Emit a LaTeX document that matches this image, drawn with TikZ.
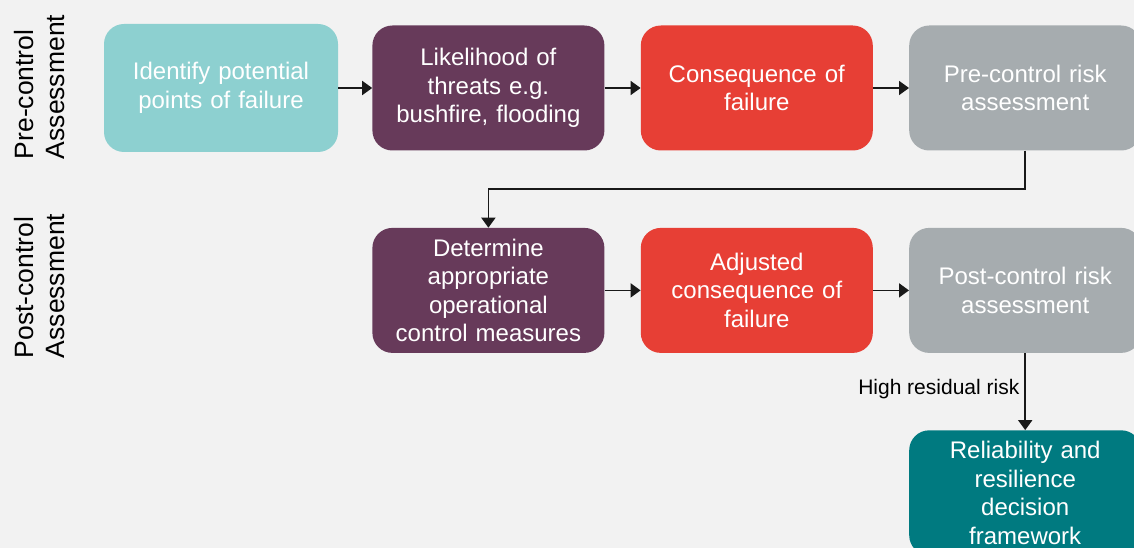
\documentclass[tikz,border=0pt]{standalone}
\usepackage{fontspec}
\setmainfont{Liberation Sans}
\usetikzlibrary{positioning,arrows.meta,calc}

\definecolor{cback}{HTML}{F2F2F2}
\definecolor{cidentify}{HTML}{8DD0D0}
\definecolor{cthreat}{HTML}{673A5A}
\definecolor{cconseq}{HTML}{E73F35}
\definecolor{crisk}{HTML}{A6ACAF}
\definecolor{cframe}{HTML}{007A80}

\tikzset{
  stage/.style={rectangle, rounded corners=20pt, minimum width=232pt,
    minimum height=125pt, text width=215pt, align=center, inner sep=0pt,
    text=white, font=\fontsize{24}{28.5}\selectfont},
  phase/.style={rotate=90, align=left, font=\fontsize{26.5}{31}\selectfont},
  flow/.style={-{Triangle[length=10pt,width=14pt]}, line width=1.8pt, draw=black!90}
}

\begin{document}
\begin{tikzpicture}[x=1pt, y=1pt, node distance=77pt and 36pt]
    \fill[cback] (0,0) rectangle (1134,-548);
    \useasboundingbox (0,0) rectangle (1134,-548);
    % Nodes
    \node[stage, fill=cidentify, minimum width=234pt, minimum height=128pt] (identify) at (221,-88) {Identify potential\\points of failure} ; %
    \node[stage, fill=cthreat, right=34pt of identify] (likelihood) {Likelihood of\\threats e.g.\\bushfire, flooding} ; %
    \node[stage, fill=cconseq, right=of likelihood] (consequence) {Consequence of\\failure} ; %
    \node[stage, fill=crisk, right=of consequence] (precontrol) {Pre-control risk\\assessment} ; %
    \node[stage, fill=cthreat, below=of likelihood] (measures) {Determine\\appropriate\\operational\\control measures} ; %
    \node[stage, fill=cconseq, right=of measures] (adjusted) {Adjusted\\consequence of\\failure} ; %
    \node[stage, fill=crisk, right=of adjusted] (postcontrol) {Post-control risk\\assessment} ; %
    \node[stage, fill=cframe, below=of postcontrol] (framework) {Reliability and\\resilience\\decision\\framework} ; %
    % Phase labels
    \node[phase] (prephase) at (40,-87) {Pre-control\\Assessment} ; %
    \node[phase] (postphase) at (40,-286) {Post-control\\Assessment} ; %
    \coordinate (turn) at ($(precontrol.south)!0.5!(postcontrol.north)$) ; %
    % Edges
    \draw[flow] (identify) -- (likelihood) ; %
    \draw[flow] (likelihood) -- (consequence) ; %
    \draw[flow] (consequence) -- (precontrol) ; %
    \draw[flow] (precontrol) -- (turn) -| (measures) ; %
    \draw[flow] (measures) -- (adjusted) ; %
    \draw[flow] (adjusted) -- (postcontrol) ; %
    \draw[flow] (postcontrol) -- node[left, inner sep=5pt, yshift=3pt, font=\fontsize{21}{24}\selectfont] {High residual risk} (framework) ; %
\end{tikzpicture}
\end{document}
